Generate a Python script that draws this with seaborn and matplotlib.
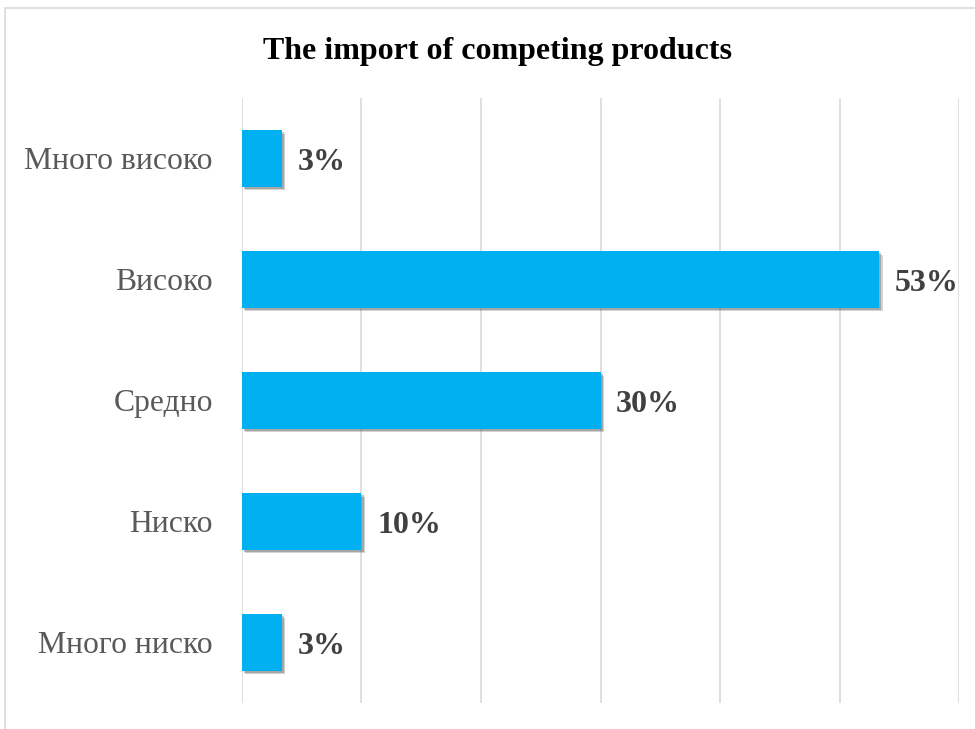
import seaborn as sns
import matplotlib.pyplot as plt
import matplotlib.patheffects as pe
from matplotlib.patches import Rectangle
import pandas as pd

categories = ['Много високо', 'Високо', 'Средно', 'Ниско', 'Много ниско']
values = [3.33, 53.33, 30.0, 10.0, 3.33]
labels = ['3%', '53%', '30%', '10%', '3%']

df = pd.DataFrame({'category': categories, 'value': values})

sns.set_style('white')
plt.rcParams['font.family'] = ['Liberation Serif', 'DejaVu Serif']

fig = plt.figure(figsize=(9.75, 7.29), dpi=100)
ax = fig.add_axes([0.2482, 0.0357, 0.9836 - 0.2482, 0.8656 - 0.0357])

sns.barplot(data=df, x='value', y='category', color='#00B0F0', saturation=1,
            width=0.47, linewidth=0, ax=ax, zorder=3)

# soft drop shadow under each bar
for bar in ax.patches:
    bar.set_path_effects([
        pe.SimplePatchShadow(offset=(2.5, -2.5), shadow_rgbFace='#7f7f7f', alpha=0.35),
        pe.SimplePatchShadow(offset=(1.5, -1.5), shadow_rgbFace='#555555', alpha=0.35),
        pe.Normal()])

for i, (v, lab) in enumerate(zip(values, labels)):
    ax.text(v + 1.3, i + 0.03, lab, va='center', ha='left', fontsize=23,
            fontweight='bold', color='#404040')

ax.set_xlim(0, 60)
ax.set_ylim(4.5, -0.5)
ax.set_xticks(range(0, 61, 10))
ax.set_xticklabels([])
ax.grid(axis='x', color='#D9D9D9', linewidth=1.2, zorder=0)
ax.tick_params(axis='y', length=0, pad=21, labelsize=22.8, labelcolor='#595959')
ax.tick_params(axis='x', length=0)
ax.set_xlabel('')
ax.set_ylabel('')
for s in ax.spines.values():
    s.set_visible(False)

fig.text(0.51, 0.93, 'The import of competing products', ha='center', va='center',
         fontsize=23, fontweight='bold', color='black')

fig.patches.append(Rectangle((5 / 975, -0.05), 1.1, 1 - 8 / 729 + 0.05, transform=fig.transFigure,
                             fill=False, edgecolor='#D9D9D9', linewidth=1.2, zorder=-1))

fig.savefig('out.png', dpi=100)
